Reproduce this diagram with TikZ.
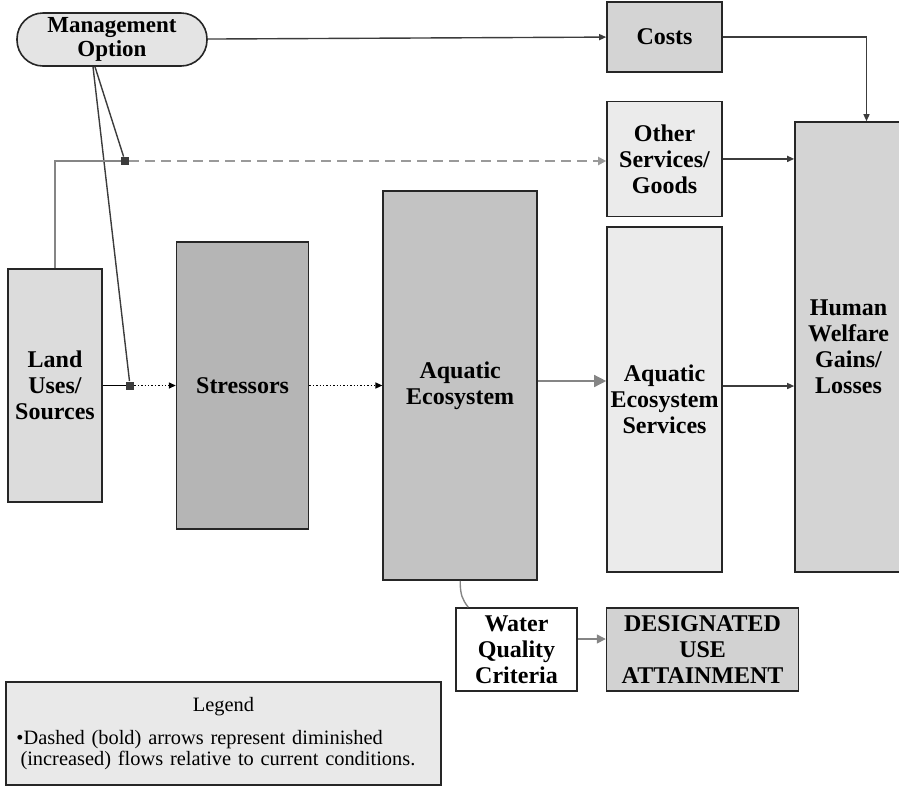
\documentclass[tikz,border=0pt]{standalone}
\usepackage{fontspec}
\setmainfont{Liberation Serif}
\usetikzlibrary{arrows.meta,positioning}
\definecolor{boxline}{HTML}{262626}
\definecolor{darkline}{HTML}{3C3C3C}
\definecolor{greyline}{HTML}{858585}
\definecolor{dashgrey}{HTML}{9A9A9A}
\definecolor{mgmtfill}{HTML}{E4E4E4}
\definecolor{landfill}{HTML}{DCDCDC}
\definecolor{stressfill}{HTML}{B5B5B5}
\definecolor{aquafill}{HTML}{C3C3C3}
\definecolor{palefill}{HTML}{EBEBEB}
\definecolor{midfill}{HTML}{D4D4D4}
\definecolor{duafill}{HTML}{D2D2D2}
\definecolor{legendfill}{HTML}{E9E9E9}

\begin{document}
\begin{tikzpicture}[x=0.5pt,y=-0.5pt,node distance=36.5pt,
  box/.style={draw=boxline,line width=0.8pt,align=center,inner sep=1pt,
    font=\fontsize{12}{13}\selectfont\bfseries},
  flow/.style={-{Triangle[length=3.5pt,width=3pt]},draw=darkline,line width=0.7pt},
  greyflow/.style={-{Triangle[length=6pt,width=6pt]},draw=greyline,line width=0.7pt},
  junction/.style={fill=darkline,minimum size=4pt,inner sep=0pt}]
  \useasboundingbox (0,0) rectangle (899,789);

  \node[box,fill=landfill,minimum width=47pt,minimum height=116.5pt]
    (land) at (55,385.5) {Land\\Uses/\\Sources};
  \node[box,fill=stressfill,minimum width=66pt,minimum height=143.5pt,
    right=of land] (stress) {Stressors};
  \node[box,fill=aquafill,minimum width=77pt,minimum height=194.5pt,
    right=of stress] (aqua) {Aquatic\\Ecosystem};
  \node[box,fill=palefill,minimum width=57.5pt,minimum height=172.5pt]
    (aes) at (664.5,399.5) {Aquatic\\Ecosystem\\Services};
  \node[box,fill=palefill,minimum width=57.5pt,minimum height=57.5pt,
    above=4.5pt of aes] (other) {Other\\Services/\\Goods};
  \node[box,fill=midfill,minimum width=57.5pt,minimum height=35pt,
    above=14pt of other] (costs) {Costs};
  \node[box,fill=midfill,minimum width=53.5pt,minimum height=225pt]
    (hw) at (848.5,347) {Human\\Welfare\\Gains/\\Losses};
  \node[box,fill=mgmtfill,rounded corners=13pt,minimum width=95pt,minimum height=26.5pt,
    font=\fontsize{11.5}{12}\selectfont\bfseries] (mgmt) at (112,39.5) {Management\\Option};

  \node[box,fill=white,minimum width=60.5pt,minimum height=41.5pt]
    (wqc) at (516.5,649.5) {Water\\Quality\\Criteria};
  \node[box,fill=duafill,minimum width=96pt,minimum height=41.5pt,
    right=14pt of wqc] (dua) {DESIGNATED\\USE\\ATTAINMENT};

  \node[draw=boxline,line width=0.8pt,fill=legendfill,minimum width=217.5pt,
    minimum height=51.5pt,text width=210pt,align=left,
    font=\fontsize{10.2}{10.5}\selectfont] (legend) at (223.5,733.5)
    {\centering Legend\par\vspace{6pt}\raggedright\hyphenpenalty=10000
     \hspace*{1.5pt}•Dashed (bold) arrows represent diminished\\
     \hspace*{3.5pt}(increased) flows relative to current conditions.\par\vspace{2pt}};

  \node[junction] (jtop) at (125,161) {};
  \node[junction] (jlow) at (130,385.5) {};

  % management option links
  \draw[flow] (mgmt) -- (costs);
  \draw[darkline,line width=0.7pt] ([xshift=-8.5pt]mgmt.south) -- (jtop);
  \draw[darkline,line width=0.7pt] ([xshift=-9.5pt]mgmt.south) -- (jlow);
  \draw[greyline,line width=0.7pt] (land.north) |- (jtop);
  \draw[-{Triangle[length=4pt,width=4pt]},dashgrey,line width=1.4pt,
    dash pattern=on 5pt off 3pt] (jtop) -- (jtop -| other.west);

  % main chain
  \draw[black,line width=0.7pt] (land.east) -- (jlow);
  \draw[flow,black,densely dotted] (jlow) -- (stress.west);
  \draw[flow,black,densely dotted] (stress) -- (aqua);
  \draw[greyflow] ([yshift=2.25pt]aqua.east) -- ([yshift=2.25pt]aqua.east -| aes.west);
  \draw[flow] ([yshift=6.75pt]aes.east) -- ([yshift=6.75pt]aes.east -| hw.west);
  \draw[flow] (other.east) -- (other.east -| hw.west);
  \draw[flow] (costs.east) -| ([xshift=9pt]hw.north);

  % criteria
  \draw[greyline,line width=0.7pt] (aqua.south) .. controls +(0,14) and +(-6,-8) ..
    ([xshift=6.5pt]wqc.north west);
  \draw[-{Triangle[length=4.5pt,width=4.5pt]},greyline,line width=0.7pt]
    ([yshift=5.25pt]wqc.east) -- ([yshift=5.25pt]wqc.east -| dua.west);
\end{tikzpicture}
\end{document}
